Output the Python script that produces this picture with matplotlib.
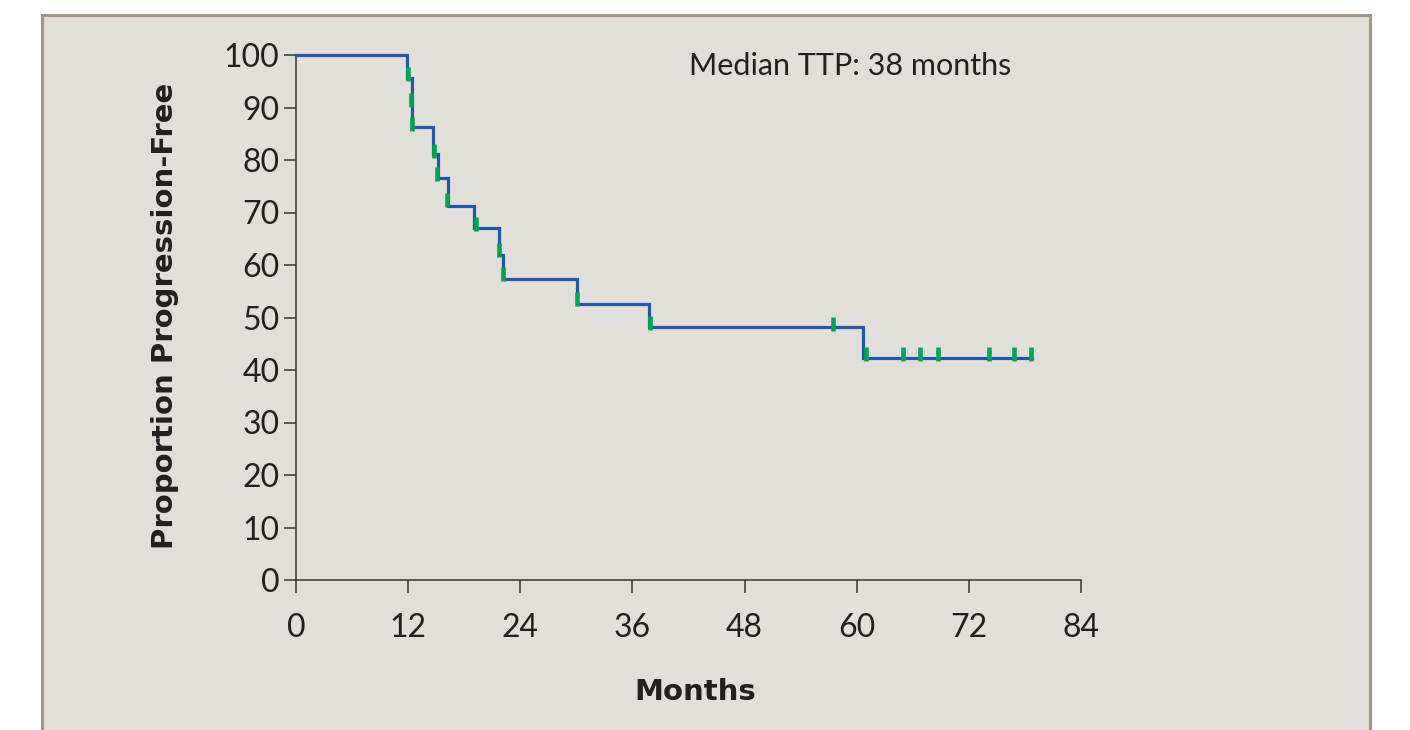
import matplotlib
matplotlib.use("Agg")
import matplotlib.pyplot as plt
from matplotlib.patches import Rectangle

# Kaplan-Meier step data (months, % progression-free)
step_months = [0, 11.85, 12.45, 14.7, 15.2, 16.3, 19.0, 21.7, 22.2, 30.1, 37.8, 60.7, 78.8]
step_pct = [100, 95.7, 86.3, 81.1, 76.5, 71.3, 67.0, 61.9, 57.3, 52.6, 48.1, 42.3, 42.3]

# Censored observations
censor_months = [11.95, 12.35, 12.4, 14.75, 15.1, 16.2, 19.3, 21.7, 22.2, 30.1,
                 37.9, 57.5, 61.0, 64.9, 66.8, 68.7, 74.2, 76.8, 78.65]
censor_pct = [96.4, 91.5, 86.9, 81.8, 77.3, 72.4, 67.9, 62.8, 58.3, 53.5,
              49.0, 48.8, 43.0, 43.0, 43.0, 43.0, 43.0, 43.0, 43.0]

x_ticks = [0, 12, 24, 36, 48, 60, 72, 84]
y_ticks = [0, 10, 20, 30, 40, 50, 60, 70, 80, 90, 100]

W, H = 1410, 730
FONT = "Lato"
LABEL_FONT = "DejaVu Sans"
BG = "#e2dfdb"
BORDER = "#a29588"
BLUE = "#2257a8"
GREEN = "#00a651"
INK = "#231f20"

fig = plt.figure(figsize=(W / 100, H / 100), dpi=100)
fig.patch.set_facecolor("white")

# Grey panel with a frame on left, top and right
panel = Rectangle((41.5 / W, -0.05), (1369.5 - 41.5) / W, (H - 14.5) / H + 0.05,
                  transform=fig.transFigure, facecolor=BG, edgecolor=BORDER,
                  linewidth=2.2, zorder=-10)
fig.patches.append(panel)

ax = fig.add_axes([296 / W, (H - 580) / H, (1081 - 296) / W, (580 - 55) / H])
ax.set_facecolor("none")
ax.set_zorder(5)

ax.step(step_months, step_pct, where="post", color=BLUE, linewidth=2.3,
        clip_on=False, zorder=3, solid_joinstyle="miter")
ax.plot(censor_months, censor_pct, linestyle="none", marker="|", markersize=9.5,
        markeredgewidth=3.3, color=GREEN, clip_on=False, zorder=4)

ax.set_xlim(0, 84)
ax.set_ylim(0, 100)
ax.set_xticks(x_ticks)
ax.set_yticks(y_ticks)
ax.tick_params(axis="both", direction="out", length=9, width=1.1, color="#333333",
               labelsize=23, labelcolor=INK, pad=3)
ax.tick_params(axis="x", pad=15)
for lab in ax.get_xticklabels() + ax.get_yticklabels():
    lab.set_fontfamily(FONT)

for side in ("top", "right"):
    ax.spines[side].set_visible(False)
for side in ("left", "bottom"):
    ax.spines[side].set_color("#333333")
    ax.spines[side].set_linewidth(1.1)

fig.text(695 / W, 1 - 692 / H, "Months", ha="center", va="center",
         fontsize=21, fontweight="bold", family=LABEL_FONT, color=INK)
fig.text(165 / W, 1 - 316 / H, "Proportion Progression-Free", ha="center", va="center",
         rotation=90, fontsize=21, fontweight="bold", family=LABEL_FONT, color=INK)
fig.text(850 / W, 1 - 66 / H, "Median TTP: 38 months", ha="center", va="center",
         fontsize=22, family=FONT, color=INK)

fig.savefig("out.png", dpi=100, facecolor=fig.get_facecolor())
